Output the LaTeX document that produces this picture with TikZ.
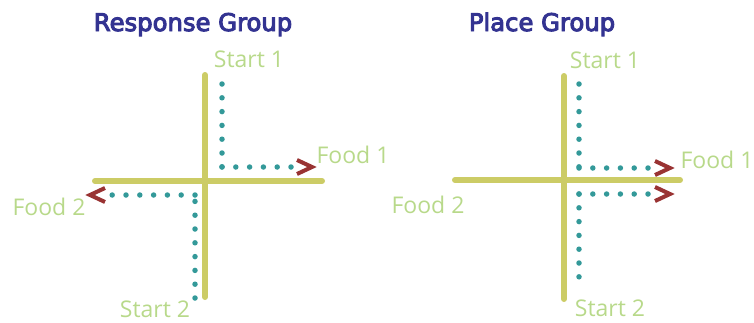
\documentclass[tikz,border=0pt]{standalone}
\usepackage{fontspec}
\newfontfamily\titlefont[FakeBold=4]{DejaVu Sans}
\newfontfamily\labelfont{Open Sans}
\definecolor{barcol}{RGB}{204,204,102}
\definecolor{dotcol}{RGB}{51,153,153}
\definecolor{arrcol}{RGB}{153,51,51}
\definecolor{labcol}{RGB}{184,217,138}
\definecolor{titcol}{RGB}{51,51,145}
\tikzset{
  bar/.style={draw=barcol, line width=6pt, line cap=round},
  dotline/.style={draw=dotcol, line width=5.5pt, line cap=round, dash pattern=on 0pt off 13.8pt},
  chevron/.style={draw=arrcol, line width=4pt, line join=miter, line cap=butt},
  lbl/.style={text=labcol, font=\labelfont\fontsize{23}{23}\selectfont, anchor=base, inner sep=0pt},
  ttl/.style={text=titcol, font=\titlefont\fontsize{24.3}{24.3}\selectfont, anchor=base, inner sep=0pt}
}
\begin{document}
\begin{tikzpicture}[x=1pt,y=-1pt]
\useasboundingbox (0,0) rectangle (754,322);
% titles
\node[ttl] (t1) at (193,31) {Response Group};
\node[ttl] (t2) at (542,31) {Place Group};
% ---------- left cross ----------
\coordinate (Lvt) at (205,75); \coordinate (Lvb) at (205,297);
\coordinate (Lhl) at (95,181); \coordinate (Lhr) at (322,181);
\draw[bar] (Lvt) -- (Lvb);
\draw[bar] (Lhl) -- (Lhr);
\coordinate (La1) at (222,84); \coordinate (La2) at (222,167); \coordinate (La3) at (291,167);
\draw[dotline] (La1) -- (La2);
\draw[dotline] (La2) -- (La3);
\coordinate (Lb1) at (195,298); \coordinate (Lb2) at (195,195); \coordinate (Lb3) at (111,195);
\draw[dotline] (Lb1) -- (Lb2);
\draw[dotline] (Lb2) -- (Lb3);
\coordinate (LtipR) at (312,167);
\draw[chevron] ([shift={(-15,-7)}]LtipR) -- (LtipR) -- ([shift={(-15,7)}]LtipR);
\coordinate (LtipL) at (90,195);
\draw[chevron] ([shift={(15,-7)}]LtipL) -- (LtipL) -- ([shift={(15,7)}]LtipL);
\node[lbl] (Ls1) at (249,67) {Start 1};
\node[lbl] (Lf1) at (353,163) {Food 1};
\node[lbl] (Lf2) at (49,215) {Food 2};
\node[lbl] (Ls2) at (155,317) {Start 2};
% ---------- right cross ----------
\coordinate (Rvt) at (564,76); \coordinate (Rvb) at (564,299);
\coordinate (Rhl) at (455,180); \coordinate (Rhr) at (680,180);
\draw[bar] (Rvt) -- (Rvb);
\draw[bar] (Rhl) -- (Rhr);
\coordinate (Ra1) at (579,84); \coordinate (Ra2) at (579,168); \coordinate (Ra3) at (649,168);
\draw[dotline] (Ra1) -- (Ra2);
\draw[dotline] (Ra2) -- (Ra3);
\coordinate (Rb1) at (579,279); \coordinate (Rb2) at (579,194); \coordinate (Rb3) at (649,194);
\draw[dotline] (Rb2) -- (Rb1);
\draw[dotline] (Rb2) -- (Rb3);
\coordinate (RtipA) at (670,168);
\draw[chevron] ([shift={(-15,-7)}]RtipA) -- (RtipA) -- ([shift={(-15,7)}]RtipA);
\coordinate (RtipB) at (670,194);
\draw[chevron] ([shift={(-15,-7)}]RtipB) -- (RtipB) -- ([shift={(-15,7)}]RtipB);
\node[lbl] (Rs1) at (605,68) {Start 1};
\node[lbl] (Rf1) at (717,168) {Food 1};
\node[lbl] (Rf2) at (428,213) {Food 2};
\node[lbl] (Rs2) at (610,316) {Start 2};
\end{tikzpicture}
\end{document}
